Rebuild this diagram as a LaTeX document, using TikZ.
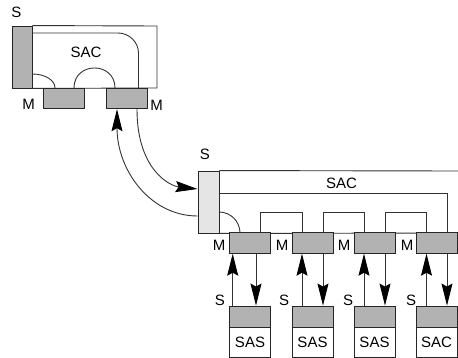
\documentclass[tikz,border=0pt]{standalone}
\usepackage{fontspec}
\setmainfont{Liberation Sans}
\usetikzlibrary{arrows.meta}

\tikzset{
  wire/.style={draw=black!80, line width=0.9pt},
  port/.style={draw=black!85, line width=0.9pt, fill=black!30, inner sep=0pt},
  mbox/.style={port, minimum width=41pt, minimum height=20.5pt},
  sbox/.style={draw=black!85, line width=0.9pt, fill=white, inner sep=0pt,
    minimum width=41pt, minimum height=30pt},
  sig/.style={wire, -{Stealth[length=22pt,width=11pt,inset=3pt,black]}},
  lbl/.style={inner sep=0pt},
}

\begin{document}
\begin{tikzpicture}[x=1pt,y=-1pt,font=\fontsize{15}{18}\selectfont]
    \useasboundingbox (0,0) rectangle (458,358);

    % Primer bloque.
    \node[port, minimum width=20pt, minimum height=62pt] (s1) at (22,57) {};
    \draw[wire] (s1.north east) -- (157,26) -- (157,88) -- (s1.south east);
    \draw[wire] (32,33) -- (118,33) .. controls (129,33) and (138.5,42) .. (138.5,53) -- (138.5,88);
    \draw[wire] (32,74) .. controls (45,74) and (55,80) .. (55,88);
    \draw[wire] (74,88) .. controls (74,61.3) and (115,61.3) .. (115,88);
    \node[mbox] (ma) at (63.5,98.5) {};
    \node[mbox] (mb) at (126.5,98.5) {};
    \node[lbl] (sa) at (16.5,12.5) {S};
    \node[lbl] (saca) at (86,52) {SAC};
    \node[lbl] (mla) at (28.5,104.5) {M};
    \node[lbl] (mlb) at (156.5,105.5) {M};

    % Segundo bloque.
    \node[port, fill=black!10, minimum width=21pt, minimum height=62pt] (s2) at (208.5,202) {};
    \draw[wire] (s2.north east) -- (458,171);
    \draw[wire] (s2.south east) -- (458,233);
    \draw[wire] (219,193) -- (447,193) -- (447,233);
    \draw[wire] (219,212) .. controls (230.6,212) and (240,221.4) .. (240,233);
    \foreach \a/\b in {260/302,323/364,385/426}{
        \draw[wire] (\a,233) -- (\a,212) -- (\b,212) -- (\b,233);
    }
    \node[lbl] (sb) at (205,154) {S};
    \node[lbl] (sacb) at (341.5,183) {SAC};

    % Enlace entre bloques.
    \draw[sig] ([xshift=10.5pt]mb.south) .. controls (137,170) and (170,186) .. ([yshift=13pt]s2.west);
    \draw[sig] ([yshift=-14pt]s2.west) .. controls (150,216) and (117,170) .. ([xshift=-9.5pt]mb.south);

    % Columnas.
    \foreach \cx/\mx/\sx/\uoff/\doff/\lab [count=\i] in
        {250/219/220/-17.3/6/SAS, 312.5/282/284/-10.5/10.5/SAS,
         374.5/344/348/-10.5/10.5/SAS, 436.5/407/411/-10/10.5/SAC}{
        \node[mbox] (m\i) at (\cx,243) {};
        \node[lbl] (ml\i) at (\mx,245) {M};
        \node[mbox, minimum height=21pt] (p\i) at (\cx,316.5) {};
        \node[sbox] (d\i) at (\cx,342) {\lab};
        \node[lbl] (sl\i) at (\sx,300) {S};
        \draw[sig] ([xshift=\uoff pt]p\i.north) -- ([xshift=\uoff pt]m\i.south);
        \draw[sig] ([xshift=\doff pt]m\i.south) -- ([xshift=\doff pt]p\i.north);
    }
\end{tikzpicture}
\end{document}
